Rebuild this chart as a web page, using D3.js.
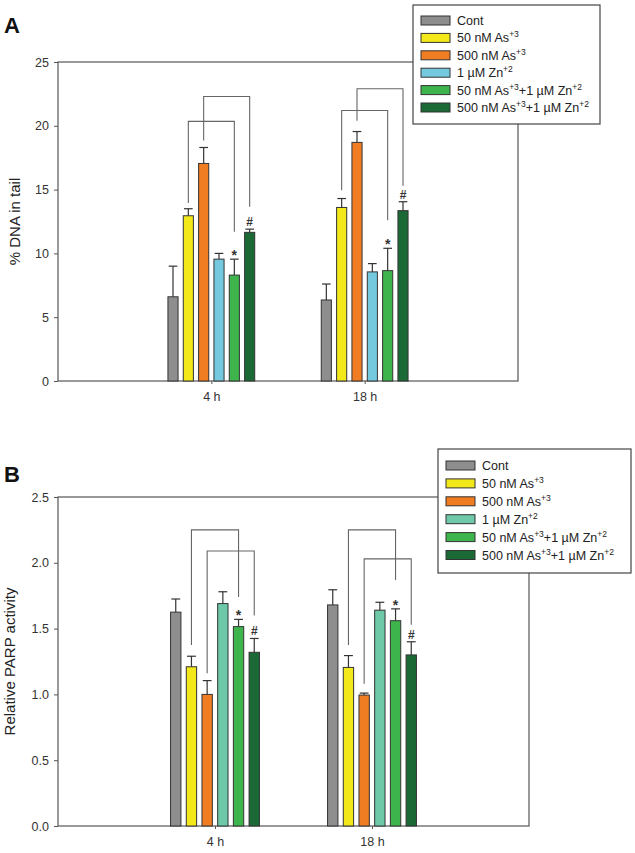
<!DOCTYPE html>
<html><head><meta charset="utf-8">
<script src="https://cdn.jsdelivr.net/npm/d3@7"></script>
<style>body{margin:0;background:#fff}svg{display:block;font-family:"Liberation Sans",Arial,sans-serif}</style>
</head><body><svg id="c" width="635" height="853"></svg>
<script>
// ---------- data ----------
const timepoints = ["4 h", "18 h"];
const seriesLabels = [
  ["Cont"],
  ["50 nM As", "+3"],
  ["500 nM As", "+3"],
  ["1 µM Zn", "+2"],
  ["50 nM As", "+3", "+1 µM Zn", "+2"],
  ["500 nM As", "+3", "+1 µM Zn", "+2"]
];
const colorsA = ["#8e8e8e", "#f3e81a", "#f07d22", "#74c9df", "#3db54c", "#1b6a36"];
const colorsB = ["#8e8e8e", "#f3e81a", "#f07d22", "#6dc9a8", "#3db54c", "#1b6a36"];

// Panel A: % DNA in tail (mean, upper error bar)
const dnaMean4h  = [6.6, 12.95, 17.05, 9.55, 8.3, 11.65];
const dnaErr4h   = [2.4, 0.55, 1.25, 0.45, 1.25, 0.25];
const dnaMean18h = [6.35, 13.6, 18.7, 8.55, 8.65, 13.35];
const dnaErr18h  = [1.25, 0.7, 0.85, 0.65, 1.75, 0.7];
const dnaTicks = [0, 5, 10, 15, 20, 25];

// Panel B: relative PARP activity
const parpMean4h  = [1.625, 1.21, 1.0, 1.69, 1.515, 1.32];
const parpErr4h   = [0.1, 0.08, 0.105, 0.09, 0.055, 0.105];
const parpMean18h = [1.68, 1.205, 0.995, 1.64, 1.56, 1.3];
const parpErr18h  = [0.115, 0.09, 0.015, 0.06, 0.09, 0.1];
const parpTicks = [0.0, 0.5, 1.0, 1.5, 2.0, 2.5];

// significance marks per series (index 4 = "*", index 5 = "#")
const marks = ["", "", "", "", "*", "#"];

// brackets: [timeIndex, fromSeries, toSeries, topLevel, leftEnd, rightEnd]
const bracketsA = [
  [0, 2, 5, 22.3, 18.85, 13.65],
  [0, 1, 4, 20.35, 13.95, 11.7],
  [1, 2, 5, 22.9, 20.4, 15.3],
  [1, 1, 4, 21.2, 14.95, 12.6]
];
const bracketsB = [
  [0, 1, 4, 2.25, 1.375, 1.74],
  [0, 2, 5, 2.09, 1.16, 1.6],
  [1, 1, 4, 2.25, 1.375, 1.87],
  [1, 2, 5, 2.03, 1.08, 1.53]
];

// ---------- drawing ----------
const svg = d3.select("#c");
const axisColor = "#555";
const FONT = '"Liberation Sans",Arial,sans-serif';

function panel(cfg) {
  const g = svg.append("g");
  const x = d3.scaleLinear().domain([0, 3]).range([cfg.left, cfg.right]);
  const y = d3.scaleLinear().domain(cfg.yDomain).range([cfg.bottom, cfg.top]);
  const pitch = 0.1, bw = 0.066;
  const barX = (t, s) => x(t + 1 + (s - 2.5) * pitch);

  // frame
  g.append("rect").attr("x", cfg.left).attr("y", cfg.top)
    .attr("width", cfg.right - cfg.left).attr("height", cfg.bottom - cfg.top)
    .attr("fill", "none").attr("stroke", axisColor).attr("stroke-width", 1.2);

  // y axis
  const ya = d3.axisLeft(y).tickValues(cfg.ticks).tickSize(4).tickPadding(5)
    .tickFormat(cfg.fmt);
  const yg = g.append("g").attr("transform", `translate(${cfg.left},0)`).call(ya);
  yg.select(".domain").remove();
  yg.selectAll("line").attr("stroke", axisColor);
  yg.selectAll("text").attr("font-size", 12.5).attr("fill", "#333").attr("font-family", FONT);

  // x axis
  const xa = d3.axisBottom(x).tickValues([1, 2]).tickSize(3).tickPadding(8)
    .tickFormat(d => timepoints[d - 1]);
  const xg = g.append("g").attr("transform", `translate(0,${cfg.bottom})`).call(xa);
  xg.select(".domain").remove();
  xg.selectAll("line").attr("stroke", axisColor);
  xg.selectAll("text").attr("font-size", 12.5).attr("fill", "#333").attr("font-family", FONT);

  // y label
  g.append("text").attr("transform", `translate(${cfg.ylabX},${(cfg.top + cfg.bottom) / 2}) rotate(-90)`)
    .attr("text-anchor", "middle").attr("font-size", 15).attr("fill", "#222").text(cfg.ylabel);

  // panel letter
  g.append("text").attr("x", cfg.letterX).attr("y", cfg.letterY).attr("font-size", 22)
    .attr("font-weight", "bold").attr("fill", "#111").text(cfg.letter);

  const hw = (x(bw) - x(0)) / 2;
  const capW = (x(0.05) - x(0)) / 2 + 0.5;
  cfg.data.forEach((d, t) => {
    d.mean.forEach((m, s) => {
      const cx = barX(t, s);
      const top = d.mean[s] + d.err[s];
      g.append("line").attr("x1", cx).attr("x2", cx).attr("y1", y(m)).attr("y2", y(top))
        .attr("stroke", "#333").attr("stroke-width", 1.2);
      g.append("line").attr("x1", cx - capW).attr("x2", cx + capW).attr("y1", y(top)).attr("y2", y(top))
        .attr("stroke", "#333").attr("stroke-width", 1.2);
      g.append("rect").attr("x", cx - hw).attr("width", hw * 2)
        .attr("y", y(m)).attr("height", y(0) - y(m))
        .attr("fill", cfg.colors[s]).attr("stroke", "#333").attr("stroke-width", 1);
      if (marks[s]) {
        g.append("text").attr("x", cx).attr("y", y(top) - (marks[s] === "*" ? -1 : 3))
          .attr("text-anchor", "middle").attr("font-size", marks[s] === "*" ? 14 : 12)
          .attr("font-weight", "bold").attr("fill", "#333").text(marks[s]);
      }
    });
  });

  // brackets
  cfg.brackets.forEach(([t, a, b, lv, le, re]) => {
    const xa_ = barX(t, a), xb = barX(t, b);
    g.append("path")
      .attr("d", `M${xa_},${y(le)}V${y(lv)}H${xb}V${y(re)}`)
      .attr("fill", "none").attr("stroke", "#666").attr("stroke-width", 1.1);
  });

  // legend
  const L = cfg.legend;
  const lg = g.append("g");
  lg.append("rect").attr("x", L.x).attr("y", L.y).attr("width", L.w).attr("height", L.h)
    .attr("fill", "#fff").attr("stroke", "#444").attr("stroke-width", 1.2);
  seriesLabels.forEach((parts, i) => {
    const ry = L.y + L.first + i * L.step;
    lg.append("rect").attr("x", L.x + 8).attr("y", ry - 4.5).attr("width", 29).attr("height", 9)
      .attr("fill", cfg.colors[i]).attr("stroke", "#333").attr("stroke-width", 1);
    const tx = lg.append("text").attr("x", L.x + 44).attr("y", ry + 4.5)
      .attr("font-size", 12.5).attr("fill", "#222");
    let raised = false;
    parts.forEach(p => {
      const isSup = /^\+\d$/.test(p);
      const ts = tx.append("tspan").text(p);
      if (isSup) { ts.attr("dy", -5).attr("font-size", 8.5); raised = true; }
      else if (raised) { ts.attr("dy", 5); raised = false; }
    });
  });
}

panel({
  left: 58, right: 518, top: 62, bottom: 381, yDomain: [0, 25], ticks: dnaTicks,
  fmt: d3.format("d"), ylabel: "% DNA in tail", ylabX: 20, letter: "A", letterX: 4, letterY: 33,
  colors: colorsA,
  data: [{mean: dnaMean4h, err: dnaErr4h}, {mean: dnaMean18h, err: dnaErr18h}],
  brackets: bracketsA,
  legend: {x: 413, y: 5, w: 187, h: 119, first: 15.5, step: 17.4}
});
panel({
  left: 58, right: 529, top: 497, bottom: 826, yDomain: [0, 2.5], ticks: parpTicks,
  fmt: d3.format(".1f"), ylabel: "Relative PARP activity", ylabX: 15, letter: "B", letterX: 4, letterY: 482,
  colors: colorsB,
  data: [{mean: parpMean4h, err: parpErr4h}, {mean: parpMean18h, err: parpErr18h}],
  brackets: bracketsB,
  legend: {x: 438, y: 449, w: 193, h: 124, first: 16.5, step: 17.9}
});
</script></body></html>
